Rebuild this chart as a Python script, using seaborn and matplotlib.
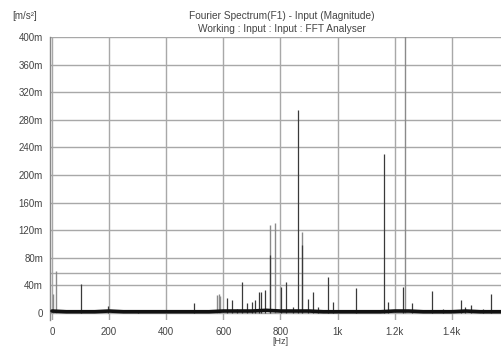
import numpy as np
import pandas as pd
import matplotlib
matplotlib.use("Agg")
import matplotlib.pyplot as plt
import seaborn as sns

# valores (magnitud en m/s^2 * 1000 -> "m")
frec_gris = [5, 15, 578, 584, 590, 763, 781, 875, 1236]
mag_gris = [28, 61, 26, 27, 25, 128, 131, 118, 420]

frec_negro = [100, 195, 300, 497, 612, 629, 647, 667, 684, 699, 711, 726, 733,
              746, 763, 801, 818, 843, 860, 875, 898, 915, 933, 968, 985,
              1065, 1163, 1178, 1228, 1262, 1332, 1371, 1431, 1448, 1466,
              1508, 1537]
mag_negro = [42, 10, 5, 14, 22, 19, 6, 45, 14, 16, 19, 31, 31,
             33, 84, 38, 45, 9, 294, 98, 21, 31, 9, 53, 16,
             36, 231, 16, 38, 15, 32, 6, 19, 9, 12,
             6, 28]

frec_piso = [0, 50, 100, 150, 200, 250, 300, 350, 400, 450, 500, 550, 600,
             650, 700, 750, 800, 850, 900, 950, 1000, 1050, 1100, 1150, 1200,
             1250, 1300, 1350, 1400, 1450, 1500, 1550, 1576]
mag_piso = [3, 2, 2, 2, 3, 2, 2, 2, 2, 2, 2, 2, 3,
            3, 3, 4, 3, 3, 3, 2, 2, 2, 2, 2, 3,
            3, 2, 2, 2, 3, 2, 2, 2]

yticks = [0, 40, 80, 120, 160, 200, 240, 280, 320, 360, 400]
ytick_labels = ["0", "40m", "80m", "120m", "160m", "200m", "240m", "280m",
                "320m", "360m", "400m"]
xticks = [0, 200, 400, 600, 800, 1000, 1200, 1400]
xtick_labels = ["0", "200", "400", "600", "800", "1k", "1.2k", "1.4k"]
nivel_ref = 58

sns.set_theme(style="white")
plt.rcParams["font.family"] = ["Liberation Sans", "DejaVu Sans"]

fig = plt.figure(figsize=(5.02, 3.49), dpi=100)
ax = fig.add_axes([50 / 502, 1 - 320 / 349, 452 / 502, 283 / 349])

gris_grid = "#a8a8a8"
for y in yticks:
    ax.axhline(y, color=gris_grid, lw=1.0, zorder=1)
ax.axhline(nivel_ref, color=gris_grid, lw=1.0, zorder=1)
for x in xticks:
    ax.axvline(x, color=gris_grid, lw=1.0, zorder=1)

ax.vlines(frec_gris, 0, mag_gris, color="#8a8a8a", lw=1.0, zorder=2)
ax.vlines(frec_negro, 0, mag_negro, color="#3a3a3a", lw=0.9, zorder=3)

df_piso = pd.DataFrame({"frec": frec_piso, "mag": mag_piso})
sns.lineplot(data=df_piso, x="frec", y="mag", ax=ax, color="#111111", lw=2.6,
             zorder=4)

ax.set_xlim(-7, 1576)
ax.set_ylim(-10, 400)
ax.set_xticks(xticks)
ax.set_xticklabels(xtick_labels)
ax.set_yticks(yticks)
ax.set_yticklabels(ytick_labels)
ax.set_xlabel("")
ax.set_ylabel("")
ax.tick_params(axis="both", labelsize=7, colors="#555555", length=3,
               width=0.8, direction="out", pad=2)
ax.tick_params(axis="both", labelcolor="#444444")

for lado in ["top", "right", "bottom"]:
    ax.spines[lado].set_visible(False)
ax.spines["left"].set_color("#888888")
ax.spines["left"].set_linewidth(1.0)

fig.text(12 / 502, 1 - 16 / 349, "[m/s²]", fontsize=7, color="#444444",
         va="center", ha="left")
fig.text(282 / 502, 1 - 16 / 349, "Fourier Spectrum(F1) - Input (Magnitude)",
         fontsize=7.3, color="#444444", va="center", ha="center")
fig.text(282 / 502, 1 - 29 / 349, "Working : Input : Input : FFT Analyser",
         fontsize=7.3, color="#444444", va="center", ha="center")
fig.text(280 / 502, 1 - 341 / 349, "[Hz]", fontsize=6.5, color="#444444",
         va="center", ha="center")

fig.savefig("out.png", dpi=100, facecolor="white")
